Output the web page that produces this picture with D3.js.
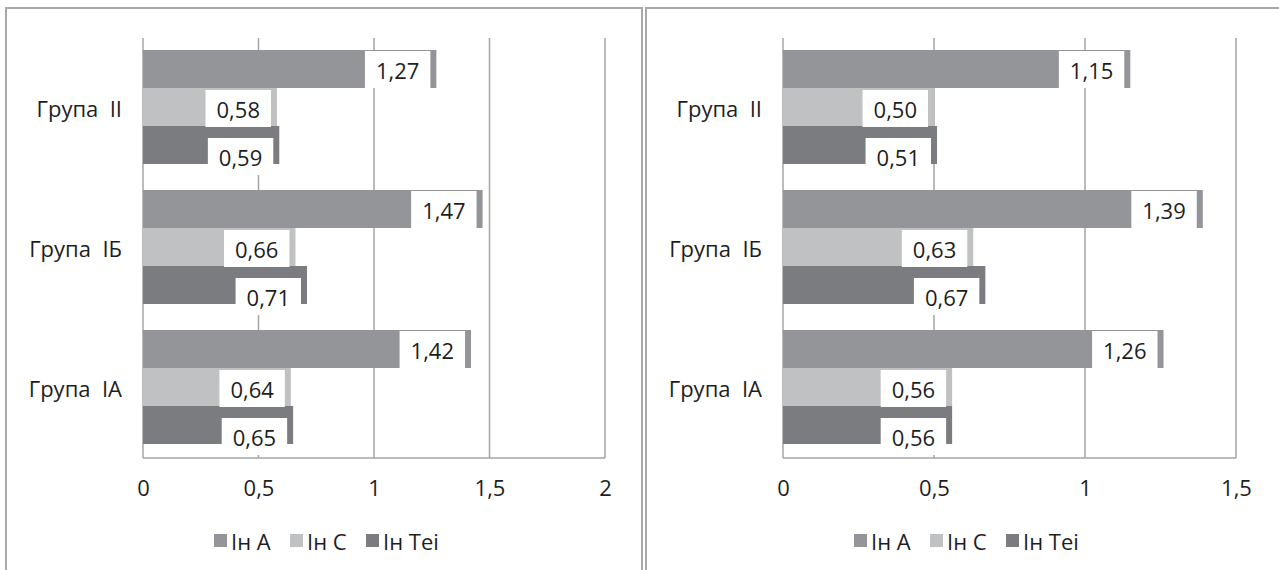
<!DOCTYPE html>
<html>
<head>
<meta charset="utf-8">
<script src="https://cdn.jsdelivr.net/npm/d3@7"></script>
<style>
  html, body { margin: 0; padding: 0; background: #fff; }
  svg { display: block; }
  text { font-family: "Open Sans", sans-serif; fill: #1e1e1e; white-space: pre; }
</style>
</head>
<body>
<svg id="chart" width="1279" height="570"></svg>
<script>
// Groups, top to bottom
const categories = ["Група  II", "Група  IБ", "Група  IA"];
const seriesNames = ["Ін А", "Ін С", "Ін Теі"];

// Left panel values per series, in category order
const leftA   = [1.27, 1.47, 1.42];
const leftC   = [0.58, 0.66, 0.64];
const leftTei = [0.59, 0.71, 0.65];
const leftTicks = [0, 0.5, 1, 1.5, 2];

// Right panel values per series, in category order
const rightA   = [1.15, 1.39, 1.26];
const rightC   = [0.50, 0.63, 0.56];
const rightTei = [0.51, 0.67, 0.56];
const rightTicks = [0, 0.5, 1, 1.5];

const colors = ["#949598", "#c0c1c3", "#7b7c7f"];
const FS = "22px";
const fmt = v => d3.format(".2f")(v).replace(".", ",");
const tickFmt = v => String(v).replace(".", ",");

const svg = d3.select("#chart");

// Panel frames
const frame = svg.append("g").attr("fill", "none").attr("stroke", "#a9a9a9").attr("stroke-width", 2);
frame.append("path").attr("d", "M6,570 V8 H642 V570");
frame.append("path").attr("d", "M646,570 V8 H1279");

function panel(cfg) {
  const g = svg.append("g");
  const x = d3.scaleLinear().domain([0, cfg.max]).range([cfg.x0, cfg.x1]);
  const y = d3.scaleBand().domain(categories).range([38, 458]).paddingInner(0).paddingOuter(0);
  const inner = d3.scaleBand().domain(seriesNames).range([12, 126]);

  // gridlines
  g.append("g").selectAll("line").data(cfg.ticks).join("line")
    .attr("x1", d => x(d)).attr("x2", d => x(d))
    .attr("y1", 38).attr("y2", 458)
    .attr("stroke", "#a4a4a4").attr("stroke-width", 1.5);
  // baseline
  g.append("line").attr("x1", x(0)).attr("x2", x(cfg.max)).attr("y1", 458).attr("y2", 458)
    .attr("stroke", "#a4a4a4").attr("stroke-width", 1.5);

  // x axis labels
  const ax = g.append("g").attr("transform", "translate(0,458)")
    .call(d3.axisBottom(x).tickValues(cfg.ticks).tickFormat(tickFmt).tickSize(0).tickPadding(0));
  ax.select(".domain").remove();
  ax.selectAll("text").attr("dy", null).attr("y", 38)
    .style("font-family", "Open Sans").style("font-size", FS).attr("fill", "#1e1e1e");

  const rows = [];
  categories.forEach((c, i) => {
    cfg.series.forEach((arr, s) => rows.push({ c, s, name: seriesNames[s], v: arr[i] }));
  });

  // bars
  g.append("g").selectAll("rect").data(rows).join("rect")
    .attr("x", x(0))
    .attr("y", d => y(d.c) + inner(d.name))
    .attr("width", d => x(d.v) - x(0))
    .attr("height", inner.bandwidth())
    .attr("fill", d => colors[d.s]);

  // value labels in white boxes
  const lab = g.append("g").selectAll("g").data(rows).join("g");
  const labelShift = [0, 1, 11];
  lab.each(function(d) {
    const el = d3.select(this);
    const cy = y(d.c) + inner(d.name) + inner.bandwidth() / 2 + labelShift[d.s];
    const right = x(d.v) - 6;
    const t = el.append("text").text(fmt(d.v))
      .attr("text-anchor", "middle").attr("dominant-baseline", "central")
      .style("font-size", FS);
    const w = t.node().getComputedTextLength() + 22;
    t.attr("x", right - w / 2).attr("y", cy + 1);
    el.insert("rect", "text")
      .attr("x", right - w).attr("y", cy - 18).attr("width", w).attr("height", 37)
      .attr("fill", "#fff");
  });

  // category labels
  g.append("g").selectAll("text").data(categories).join("text")
    .attr("x", x(0) - 21).attr("y", d => y(d) + y.bandwidth() / 2)
    .attr("text-anchor", "end").attr("dominant-baseline", "central")
    .style("font-size", FS).text(d => d);

  // legend
  const lg = g.append("g");
  seriesNames.forEach((n, i) => {
    const lx = cfg.legendX + i * 76;
    lg.append("rect").attr("x", lx).attr("y", 534).attr("width", 13).attr("height", 13).attr("fill", colors[i]);
    lg.append("text").attr("x", lx + 17).attr("y", 541).attr("dominant-baseline", "central")
      .style("font-size", FS).text(n);
  });
}

panel({ x0: 143, x1: 605, max: 2, ticks: leftTicks, series: [leftA, leftC, leftTei], legendX: 214 });
panel({ x0: 783, x1: 1236, max: 1.5, ticks: rightTicks, series: [rightA, rightC, rightTei], legendX: 854 });
</script>
</body>
</html>
